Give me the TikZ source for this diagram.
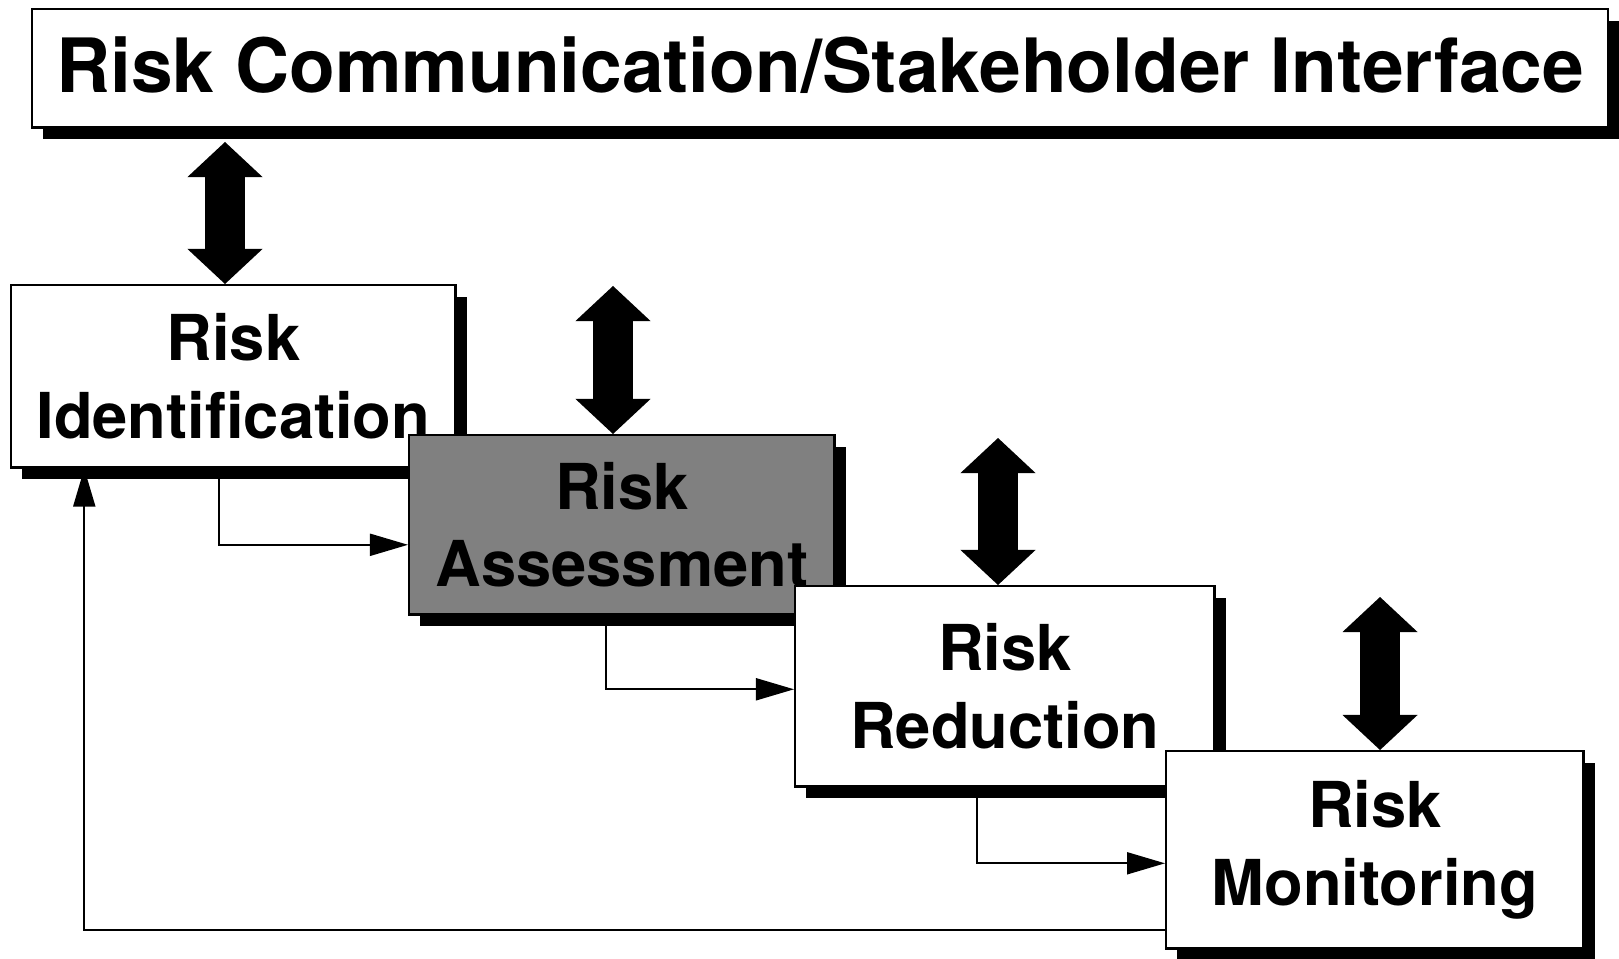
\documentclass[tikz,border=0pt]{standalone}
\usepackage{fontspec}
\setmainfont{TeX Gyre Heros}
\usetikzlibrary{shadows,arrows.meta}
\definecolor{riskgray}{RGB}{128,128,128}

\begin{document}
\begin{tikzpicture}[x=0.01cm, y=-0.01cm,
    box/.style={draw, line width=0.7pt, fill=white, anchor=north west, align=center, inner sep=0pt,
      font=\fontsize{18}{22}\selectfont\bfseries,
      drop shadow={shadow xshift=0.11cm, shadow yshift=-0.12cm, fill=black, opacity=1}},
    link/.style={line width=0.55pt, -{Triangle[length=0.38cm, width=0.22cm]}},
    biglink/.style={line width=0.4cm,
      {Triangle[length=0.35cm, width=0.75cm, line width=0pt]}-{Triangle[length=0.35cm, width=0.75cm, line width=0pt]}}]
    \useasboundingbox (0,0) rectangle (1619,958);

    \node[box, minimum width=15.75cm, minimum height=1.18cm, text height=0.6cm, text depth=0.12cm,
      font=\fontsize{21.3}{26}\selectfont\bfseries] (comm) at (31,8) {Risk Communication/Stakeholder Interface};
    \node[box, minimum width=4.44cm, minimum height=1.82cm] (ident) at (10,284) {Risk\\Identification};
    \node[box, fill=riskgray, minimum width=4.25cm, minimum height=1.79cm] (assess) at (408,434) {Risk\\Assessment};
    \node[box, minimum width=4.19cm, minimum height=2.00cm] (reduce) at (794,585) {Risk\\Reduction};
    \node[box, minimum width=4.17cm, minimum height=1.97cm] (monitor) at (1165,750) {Risk\\Monitoring};

    % two-way links to the stakeholder interface
    \coordinate (a1) at (225,142);
    \coordinate (a2) at (613,286);
    \coordinate (a3) at (998,438);
    \coordinate (a4) at (1380,597);
    \draw[biglink] (a1) -- (a1 |- ident.north);
    \draw[biglink] (a2) -- (a2 |- assess.north);
    \draw[biglink] (a3) -- (a3 |- reduce.north);
    \draw[biglink] (a4) -- (a4 |- monitor.north);

    % process flow
    \draw[link] ([xshift=-0.14cm]ident.south) |- ([yshift=-0.2cm]assess.west);
    \draw[link] ([xshift=-0.16cm]assess.south) |- ([yshift=-0.03cm]reduce.west);
    \draw[link] ([xshift=-0.28cm]reduce.south) |- ([yshift=-0.135cm]monitor.west);
    \draw[link] ([yshift=-0.8cm]monitor.west) -| ([xshift=-1.49cm]ident.south);
\end{tikzpicture}
\end{document}
